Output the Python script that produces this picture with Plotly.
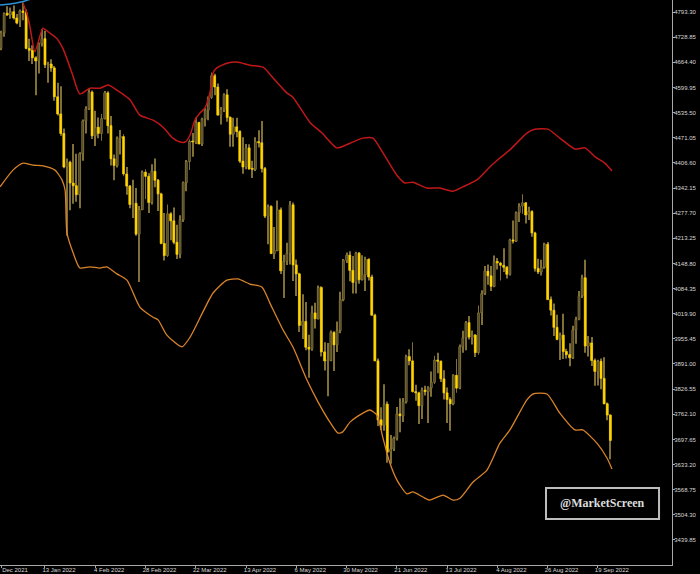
import plotly.graph_objects as go
import pandas as pd

# ---------------- data ----------------
first_day = "2021-12-23"
last_day = "2022-09-23"
closed_days = ["2021-12-24", "2022-04-15"]

tick_dates = ["2021-12-23", "2022-01-13", "2022-02-04", "2022-02-28", "2022-03-22", "2022-04-13",
              "2022-05-06", "2022-05-30", "2022-06-21", "2022-07-13", "2022-08-04", "2022-08-26", "2022-09-19"]
tick_text = ["Dec 2021", "13 Jan 2022", "4 Feb 2022", "28 Feb 2022", "22 Mar 2022", "13 Apr 2022",
             "6 May 2022", "30 May 2022", "21 Jun 2022", "13 Jul 2022", "4 Aug 2022", "26 Aug 2022", "19 Sep 2022"]

opens = [4700, 4740, 4790, 4786, 4794, 4778, 4770, 4796, 4792, 4700,
         4695, 4676, 4668, 4712, 4725, 4658, 4660, 4650, 4576, 4532,
         4482, 4396, 4408, 4355, 4348, 4325, 4430, 4514, 4545, 4588,
         4476, 4498, 4482, 4520, 4586, 4502, 4417, 4400, 4470, 4474,
         4378, 4347, 4300, 4303, 4224, 4287, 4383, 4372, 4305, 4385,
         4362, 4327, 4200, 4169, 4276, 4258, 4203, 4172, 4261, 4356,
         4410, 4462, 4460, 4510, 4455, 4519, 4542, 4574, 4630, 4601,
         4529, 4544, 4581, 4523, 4480, 4499, 4487, 4411, 4396, 4445,
         4391, 4390, 4461, 4458, 4392, 4270, 4295, 4174, 4182, 4286,
         4130, 4154, 4174, 4299, 4145, 4122, 3990, 4000, 3934, 3929,
         4022, 4007, 4087, 3922, 3899, 3900, 3972, 3940, 3977, 4056,
         4157, 4170, 4131, 4100, 4175, 4107, 4120, 4159, 4114, 4016,
         3899, 3748, 3734, 3788, 3665, 3673, 3700, 3763, 3758, 3794,
         3910, 3899, 3820, 3817, 3784, 3824, 3820, 3830, 3844, 3901,
         3898, 3853, 3817, 3800, 3789, 3862, 3829, 3935, 3958, 3997,
         3960, 3965, 3920, 4022, 4071, 4129, 4117, 4090, 4154, 4150,
         4144, 4139, 4121, 4209, 4206, 4279, 4296, 4304, 4273, 4282,
         4227, 4136, 4127, 4139, 4198, 4056, 4029, 3985, 3954, 3965,
         3923, 3915, 3907, 3978, 4005, 4066, 4112, 3937, 3945, 3900,
         3872, 3898, 3854, 3789, 3760]
highs = [4745, 4792, 4808, 4805, 4810, 4788, 4800, 4818, 4800, 4725,
         4708, 4680, 4715, 4749, 4745, 4666, 4672, 4655, 4612, 4603,
         4495, 4418, 4412, 4455, 4430, 4434, 4518, 4552, 4596, 4592,
         4540, 4523, 4532, 4591, 4590, 4527, 4428, 4474, 4491, 4480,
         4396, 4350, 4363, 4342, 4296, 4387, 4390, 4380, 4403, 4418,
         4365, 4330, 4278, 4300, 4280, 4292, 4248, 4272, 4359, 4414,
         4467, 4483, 4523, 4512, 4522, 4547, 4577, 4638, 4635, 4610,
         4550, 4585, 4595, 4526, 4522, 4522, 4490, 4472, 4455, 4454,
         4412, 4472, 4490, 4514, 4396, 4300, 4298, 4242, 4310, 4292,
         4171, 4202, 4309, 4305, 4159, 4125, 4070, 4050, 3966, 4040,
         4048, 4092, 4090, 3947, 3945, 3977, 3975, 4000, 4076, 4160,
         4177, 4180, 4168, 4179, 4178, 4170, 4166, 4162, 4120, 4020,
         3905, 3780, 3839, 3795, 3709, 3705, 3781, 3803, 3804, 3915,
         3929, 3947, 3838, 3820, 3831, 3835, 3834, 3872, 3912, 3920,
         3900, 3875, 3831, 3806, 3865, 3904, 3941, 3976, 4001, 4014,
         3977, 3968, 4041, 4080, 4142, 4146, 4142, 4169, 4163, 4153,
         4188, 4142, 4212, 4259, 4282, 4303, 4326, 4306, 4294, 4285,
         4230, 4161, 4158, 4202, 4204, 4064, 4046, 4017, 3972, 4020,
         3930, 3944, 3989, 4012, 4078, 4120, 4158, 3963, 3960, 3905,
         3902, 3905, 3908, 3792, 3762]
lows = [4695, 4730, 4783, 4776, 4774, 4762, 4755, 4772, 4698, 4668,
        4660, 4580, 4636, 4705, 4650, 4612, 4640, 4566, 4528, 4476,
        4393, 4220, 4285, 4302, 4307, 4290, 4412, 4482, 4542, 4468,
        4450, 4470, 4463, 4518, 4482, 4400, 4362, 4395, 4428, 4372,
        4325, 4290, 4265, 4220, 4101, 4285, 4313, 4278, 4300, 4344,
        4283, 4198, 4156, 4165, 4208, 4198, 4160, 4162, 4255, 4334,
        4388, 4422, 4455, 4454, 4450, 4500, 4516, 4570, 4580, 4528,
        4505, 4537, 4512, 4448, 4448, 4472, 4406, 4379, 4390, 4389,
        4368, 4386, 4446, 4382, 4265, 4198, 4173, 4160, 4180, 4122,
        4060, 4145, 4146, 4104, 4065, 3973, 3955, 3926, 3856, 3925,
        3982, 4005, 3910, 3874, 3808, 3898, 3873, 3922, 3970, 4052,
        4150, 4103, 4072, 4072, 4097, 4105, 4078, 4105, 4015, 3898,
        3732, 3722, 3720, 3638, 3635, 3668, 3695, 3716, 3742, 3790,
        3888, 3818, 3797, 3737, 3750, 3810, 3740, 3807, 3840, 3867,
        3845, 3800, 3740, 3720, 3785, 3817, 3826, 3920, 3926, 3954,
        3941, 3909, 3915, 3991, 4068, 4094, 4078, 4088, 4133, 4105,
        4127, 4110, 4118, 4200, 4204, 4255, 4276, 4251, 4260, 4217,
        4128, 4122, 4118, 4135, 4055, 4015, 3963, 3952, 3901, 3904,
        3905, 3885, 3904, 3943, 4003, 4060, 3920, 3910, 3886, 3835,
        3836, 3826, 3788, 3747, 3647]
closes = [4740, 4790, 4786, 4794, 4778, 4765, 4796, 4792, 4700, 4695,
          4676, 4668, 4712, 4725, 4658, 4660, 4650, 4576, 4532, 4482,
          4396, 4408, 4355, 4348, 4325, 4430, 4514, 4545, 4588, 4476,
          4498, 4482, 4520, 4586, 4502, 4417, 4400, 4470, 4474, 4378,
          4347, 4300, 4303, 4224, 4287, 4383, 4372, 4305, 4385, 4362,
          4327, 4200, 4169, 4276, 4258, 4203, 4172, 4261, 4356, 4410,
          4462, 4460, 4510, 4455, 4519, 4542, 4574, 4630, 4601, 4529,
          4544, 4581, 4523, 4480, 4499, 4487, 4411, 4396, 4445, 4391,
          4390, 4461, 4458, 4392, 4270, 4295, 4174, 4182, 4286, 4130,
          4154, 4174, 4299, 4145, 4122, 3990, 4000, 3934, 3929, 4022,
          4007, 4087, 3922, 3899, 3900, 3972, 3940, 3977, 4056, 4157,
          4170, 4131, 4100, 4175, 4107, 4120, 4159, 4114, 4016, 3899,
          3748, 3734, 3788, 3665, 3673, 3700, 3763, 3758, 3794, 3910,
          3899, 3820, 3817, 3784, 3824, 3820, 3830, 3844, 3901, 3898,
          3853, 3817, 3800, 3789, 3862, 3829, 3935, 3958, 3997, 3960,
          3965, 3920, 4022, 4071, 4129, 4117, 4090, 4154, 4150, 4144,
          4139, 4121, 4209, 4206, 4279, 4296, 4304, 4273, 4282, 4227,
          4136, 4127, 4139, 4198, 4056, 4029, 3985, 3954, 3965, 3923,
          3915, 3907, 3978, 4005, 4066, 4112, 3937, 3945, 3900, 3872,
          3898, 3854, 3789, 3760, 3695]

# upper envelope (bar position, price)
upper_blue_pos = [-0.3, 4.5, 7.0, 9.3]
upper_blue_val = [4811, 4816, 4820, 4826]
upper_red_pos = [7.0, 8.2, 9.2, 10.8, 13.3, 14.0, 15.6, 17.7, 19.8, 22.6, 25.1, 28.3, 31.5, 34.1,
                 36.9, 41.1, 44.2, 48.4, 51.6, 54.7, 57.0, 58.6, 60.2, 61.7, 63.4, 64.9, 65.9, 67.1,
                 67.5, 68.7, 71.9, 75.1, 79.2, 83.4, 87.2, 91.0, 92.9, 98.3, 102.2, 106.9, 111.1,
                 115.2, 118.4, 121.6, 126.0, 128.6, 131.1, 135.6, 139.7, 143.9, 147.0, 151.5, 155.6,
                 158.8, 162.0, 167.4, 169.9, 174.1, 177.9, 182.7, 185.9, 189.1, 192.2, 194.5]
upper_red_val = [4816, 4790, 4756, 4692, 4752, 4749, 4739, 4726, 4698, 4637, 4583, 4598, 4598, 4606,
                 4593, 4568, 4529, 4516, 4498, 4470, 4460, 4460, 4478, 4516, 4535, 4547, 4568, 4611,
                 4637, 4650, 4662, 4665, 4657, 4652, 4619, 4586, 4575, 4511, 4483, 4445, 4457,
                 4470, 4470, 4432, 4375, 4355, 4357, 4342, 4342, 4334, 4345, 4363, 4396,
                 4419, 4440, 4483, 4493, 4493, 4470, 4442, 4445, 4422, 4406, 4386]
# lower envelope (bar position, price)
lower_pos = [-0.3, 3.8, 7.0, 10.2, 13.4, 17.2, 19.4, 20.4, 21.0, 23.0, 25.1, 28.3, 31.5, 33.7, 36.9,
             40.1, 44.2, 48.4, 50.0, 52.8, 57.6, 60.2, 67.5, 71.9, 75.4, 79.2, 83.1, 85.6, 89.8,
             92.9, 97.4, 100.9, 104.7, 107.3, 108.8, 111.1, 115.2, 117.4, 119.7, 121.6, 123.8,
             126.0, 129.2, 131.1, 134.3, 136.5, 140.7, 143.9, 146.1, 150.2, 154.7, 158.8, 162.0,
             167.4, 169.3, 173.8, 177.9, 182.7, 185.2, 189.7, 192.9, 194.5]
lower_val = [4345, 4388, 4406, 4401, 4399, 4388, 4363, 4337, 4227, 4175, 4137, 4140, 4137, 4140, 4122,
             4106, 4037, 4011, 4004, 3965, 3935, 3960, 4073, 4106, 4109, 4096, 4088, 4047, 3978,
             3935, 3850, 3794, 3742, 3714, 3717, 3742, 3765, 3773, 3760, 3701, 3637,
             3594, 3558, 3563, 3550, 3542, 3555, 3542, 3547, 3588, 3619, 3688, 3722,
             3799, 3814, 3814, 3765, 3722, 3722, 3688, 3650, 3622]

price_ticks = [4793.30, 4728.85, 4664.40, 4599.95, 4535.50, 4471.05, 4406.60, 4342.15, 4277.70,
               4213.25, 4148.80, 4084.35, 4019.90, 3955.45, 3891.00, 3826.55, 3762.10, 3697.65,
               3633.20, 3568.75, 3504.30, 3439.85]

# ---------------- build ----------------
dates = [d.strftime("%Y-%m-%d") for d in pd.bdate_range(first_day, last_day)
         if d.strftime("%Y-%m-%d") not in closed_days]
pos = list(range(len(dates)))
tick_pos = [dates.index(d) for d in tick_dates]

UP_FILL = "#554b2b"
UP_EDGE = "#8f803f"
DOWN_FILL = "#ffd400"
WICK = "#807036"

wick_h = [h - l for h, l in zip(highs, lows)]
body_base = [min(o, c) for o, c in zip(opens, closes)]
body_h = [max(abs(c - o), 2.5) for o, c in zip(opens, closes)]
body_col = [DOWN_FILL if c < o else UP_FILL for o, c in zip(opens, closes)]
body_line = [DOWN_FILL if c < o else UP_EDGE for o, c in zip(opens, closes)]

fig = go.Figure()
# wicks (high-low range)
fig.add_trace(go.Bar(x=pos, y=wick_h, base=lows, width=0.3,
                     marker=dict(color=WICK, line=dict(width=0)),
                     hoverinfo="skip", showlegend=False))
# bodies (open-close range)
fig.add_trace(go.Bar(x=pos, y=body_h, base=body_base, width=0.66,
                     marker=dict(color=body_col, line=dict(color=body_line, width=0.6)),
                     hoverinfo="skip", showlegend=False))
fig.add_trace(go.Scatter(x=lower_pos, y=lower_val, mode="lines",
                         line=dict(color="#d9832a", width=1.3, shape="spline", smoothing=0.6),
                         showlegend=False))
fig.add_trace(go.Scatter(x=upper_red_pos, y=upper_red_val, mode="lines",
                         line=dict(color="#c01818", width=1.5, shape="spline", smoothing=0.6),
                         showlegend=False))
fig.add_trace(go.Scatter(x=upper_blue_pos, y=upper_blue_val, mode="lines",
                         line=dict(color="#2f8fd6", width=1.5, shape="spline", smoothing=0.6),
                         showlegend=False))

AX = "#a8a8a8"
TXT = "#d8d8d8"
fig.update_layout(
    width=700, height=574,
    margin=dict(l=0, r=28, t=0, b=9, autoexpand=False),
    paper_bgcolor="#000000", plot_bgcolor="#000000",
    barmode="overlay", showlegend=False,
    font=dict(family="Liberation Sans, Arial, sans-serif", size=6, color=TXT),
    xaxis=dict(range=[-0.32, 213.6], showgrid=False, zeroline=False,
               showline=True, linecolor=AX, linewidth=1,
               tickmode="array", tickvals=tick_pos, ticktext=tick_text,
               ticks="outside", ticklen=2, tickcolor=AX, ticklabelshift=14,
               ticklabelstandoff=-3,
               tickfont=dict(size=6, color=TXT), fixedrange=True),
    yaxis=dict(side="right", range=[3375.7, 4824.1], showgrid=False, zeroline=False,
               showline=True, linecolor=AX, linewidth=1,
               tickmode="array", tickvals=price_ticks,
               ticktext=[f"{v:.2f}" for v in price_ticks],
               ticks="outside", ticklen=2, tickcolor=AX, ticklabelstandoff=-2,
               tickfont=dict(size=6, color=TXT), fixedrange=True),
    shapes=[dict(type="rect", xref="paper", yref="paper",
                 x0=0.8125, x1=0.9807, y0=0.0814, y1=0.1363,
                 line=dict(color="#bdbdbd", width=2), fillcolor="#000000")],
    annotations=[dict(text="<b>@MarketScreen</b>", xref="paper", yref="paper",
                      x=0.8966, y=0.1089, xanchor="center", yanchor="middle", showarrow=False,
                      font=dict(family="Liberation Serif, Times New Roman, serif",
                                size=12, color="#dcdcdc"))],
)

fig.write_html(
    "out.html",
    config={"displayModeBar": False},
    post_script="document.body.style.margin='0';document.body.style.padding='0';"
                "document.body.style.overflow='hidden';document.body.style.background='#000';",
)
